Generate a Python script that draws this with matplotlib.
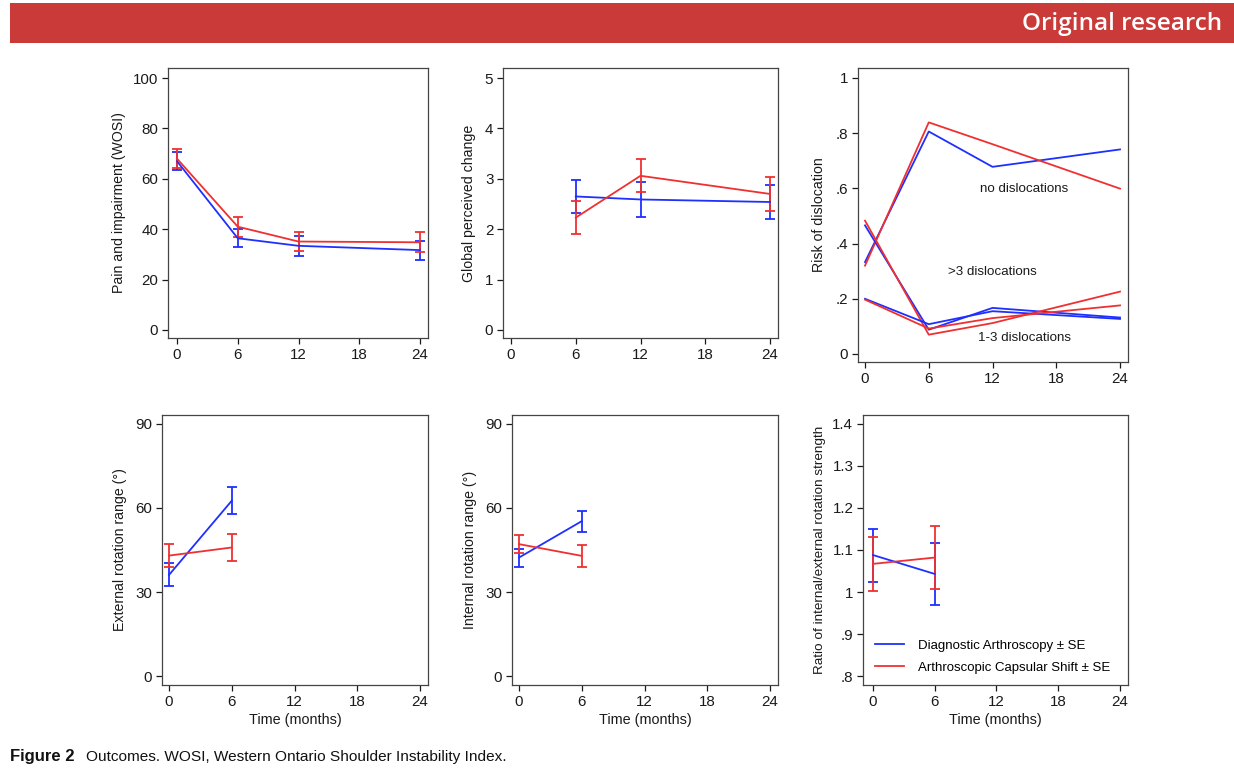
import matplotlib
matplotlib.use("Agg")
import matplotlib.pyplot as plt
from matplotlib.patches import Rectangle

plt.rcParams['font.family'] = ['Liberation Sans', 'DejaVu Sans']

BLUE = '#1f2fff'
RED = '#f03030'

# ---------------- data ----------------
months = [0, 6, 12, 24]

# Panel 1: WOSI
wosi_da = [67.0, 36.4, 33.4, 31.7]
wosi_da_se = [3.5, 3.6, 3.9, 3.8]
wosi_acs = [68.0, 41.0, 35.1, 34.8]
wosi_acs_se = [3.7, 4.0, 3.9, 4.0]

# Panel 2: global perceived change
gpc_months = [6, 12, 24]
gpc_da = [2.65, 2.59, 2.54]
gpc_da_se = [0.32, 0.34, 0.34]
gpc_acs = [2.23, 3.06, 2.70]
gpc_acs_se = [0.33, 0.33, 0.34]

# Panel 3: risk of dislocation
none_da = [0.333, 0.806, 0.678, 0.741]
none_acs = [0.320, 0.839, 0.760, 0.599]
gt3_da = [0.466, 0.088, 0.167, 0.132]
gt3_acs = [0.483, 0.070, 0.112, 0.226]
one3_da = [0.200, 0.108, 0.155, 0.127]
one3_acs = [0.197, 0.092, 0.130, 0.176]
risk_labels = ['no dislocations', '>3 dislocations', '1-3 dislocations']
risk_label_x = [15.0, 12.0, 15.0]
risk_label_y = [0.598, 0.297, 0.058]

# Panels 4-6: 0 and 6 months
rom_months = [0, 6]
ext_da = [36.1, 62.6]
ext_da_se = [4.1, 4.9]
ext_acs = [43.0, 45.9]
ext_acs_se = [4.2, 4.9]

int_da = [42.3, 55.3]
int_da_se = [3.2, 3.8]
int_acs = [47.1, 42.9]
int_acs_se = [3.3, 3.8]

ratio_da = [1.088, 1.043]
ratio_da_se = [0.063, 0.074]
ratio_acs = [1.067, 1.082]
ratio_acs_se = [0.065, 0.074]

legend_labels = ['Diagnostic Arthroscopy \u00b1 SE', 'Arthroscopic Capsular Shift \u00b1 SE']
xticks = [0, 6, 12, 18, 24]

# ---------------- figure ----------------
W, H = 1234, 776
fig = plt.figure(figsize=(W / 100, H / 100), dpi=100)

def ax_at(l, r, t, b):
    return fig.add_axes([l / W, 1 - b / H, (r - l) / W, (b - t) / H])

FS = 10.2
TXT = '#1a1a1a'

def style(ax, xlim, ylim, yticks, yticklabels, ylabel, labx, xlabel=None):
    ax.set_xlim(*xlim)
    ax.set_ylim(*ylim)
    ax.set_xticks(xticks)
    ax.set_xticklabels([str(t) for t in xticks], fontsize=10.9)
    ax.set_yticks(yticks)
    ax.set_yticklabels(yticklabels, fontsize=10.9)
    ax.tick_params(direction='out', length=4.5, width=0.9, pad=2.5, colors=TXT)
    for s in ax.spines.values():
        s.set_linewidth(0.9)
        s.set_color('#444444')
    ax.set_ylabel(ylabel, fontsize=FS, color=TXT)
    ax.yaxis.set_label_coords(labx, 0.5)
    if xlabel:
        ax.set_xlabel(xlabel, fontsize=10.4, color=TXT, labelpad=3)

def ebar(ax, x, y, e, c):
    ax.errorbar(x, y, yerr=e, color=c, lw=1.3, elinewidth=1.3, capsize=3.5, capthick=1.3)

# Panel 1
ax1 = ax_at(168, 428, 68, 338)
ebar(ax1, months, wosi_da, wosi_da_se, BLUE)
ebar(ax1, months, wosi_acs, wosi_acs_se, RED)
style(ax1, (-0.89, 24.79), (-3.2, 104), [0, 20, 40, 60, 80, 100],
      ['0', '20', '40', '60', '80', '100'], 'Pain and impairment (WOSI)', -0.162)

# Panel 2
ax2 = ax_at(503, 778, 68, 338)
ebar(ax2, gpc_months, gpc_da, gpc_da_se, BLUE)
ebar(ax2, gpc_months, gpc_acs, gpc_acs_se, RED)
style(ax2, (-0.74, 24.74), (-0.16, 5.2), [0, 1, 2, 3, 4, 5],
      ['0', '1', '2', '3', '4', '5'], 'Global perceived change', -0.098)

# Panel 3
ax3 = ax_at(858, 1128, 68, 362)
for da, acs in [(none_da, none_acs), (gt3_da, gt3_acs), (one3_da, one3_acs)]:
    ax3.plot(months, da, color=BLUE, lw=1.3)
    ax3.plot(months, acs, color=RED, lw=1.3)
for lab, lx, ly in zip(risk_labels, risk_label_x, risk_label_y):
    ax3.text(lx, ly, lab, ha='center', va='center', fontsize=9.6, color=TXT)
style(ax3, (-0.66, 24.75), (-0.029, 1.036), [0, 0.2, 0.4, 0.6, 0.8, 1],
      ['0', '.2', '.4', '.6', '.8', '1'], 'Risk of dislocation', -0.119)

# Panel 4
ax4 = ax_at(162, 428, 415, 685)
ebar(ax4, rom_months, ext_da, ext_da_se, BLUE)
ebar(ax4, rom_months, ext_acs, ext_acs_se, RED)
style(ax4, (-0.67, 24.76), (-3.2, 93.2), [0, 30, 60, 90], ['0', '30', '60', '90'],
      'External rotation range (\u00b0)', -0.132, 'Time (months)')

# Panel 5
ax5 = ax_at(512, 778, 415, 685)
ebar(ax5, rom_months, int_da, int_da_se, BLUE)
ebar(ax5, rom_months, int_acs, int_acs_se, RED)
style(ax5, (-0.67, 24.76), (-3.2, 93.2), [0, 30, 60, 90], ['0', '30', '60', '90'],
      'Internal rotation range (\u00b0)', -0.132, 'Time (months)')

# Panel 6
ax6 = ax_at(863, 1128, 415, 685)
ebar(ax6, rom_months, ratio_da, ratio_da_se, BLUE)
ebar(ax6, rom_months, ratio_acs, ratio_acs_se, RED)
style(ax6, (-0.97, 24.78), (0.7786, 1.4214), [0.8, 0.9, 1.0, 1.1, 1.2, 1.3, 1.4],
      ['.8', '.9', '1', '1.1', '1.2', '1.3', '1.4'],
      'Ratio of internal/external rotation strength', -0.14, 'Time (months)')
ax6.yaxis.label.set_fontsize(9.7)
h1, = ax6.plot([], [], color=BLUE, lw=1.3)
h2, = ax6.plot([], [], color=RED, lw=1.3)
ax6.legend([h1, h2], legend_labels, loc='center left', bbox_to_anchor=(0.045, 0.105),
           frameon=False, fontsize=9.5, handlelength=2.2, handletextpad=1.1,
           labelspacing=0.7, borderpad=0, borderaxespad=0)

# Header bar
fig.patches.append(Rectangle((10 / W, 1 - 43 / H), (W - 10) / W, 40 / H,
                             transform=fig.transFigure, facecolor='#c93a39',
                             edgecolor='none'))
fig.text(1222 / W, 1 - 24 / H, 'Original research',
         ha='right', va='center', color='white', fontsize=17.5, fontweight='semibold',
         family=['Open Sans', 'DejaVu Sans'])

# Caption
fig.text(10 / W, 1 - 757 / H, 'Figure 2', ha='left', va='center', fontsize=12,
         fontweight='bold', color='#111111', family=['Liberation Sans', 'DejaVu Sans'])
fig.text(86 / W, 1 - 757 / H, 'Outcomes. WOSI, Western Ontario Shoulder Instability Index.',
         ha='left', va='center', fontsize=11.1, color='#111111',
         family=['Liberation Sans', 'DejaVu Sans'])

fig.savefig('out.png', dpi=100)
